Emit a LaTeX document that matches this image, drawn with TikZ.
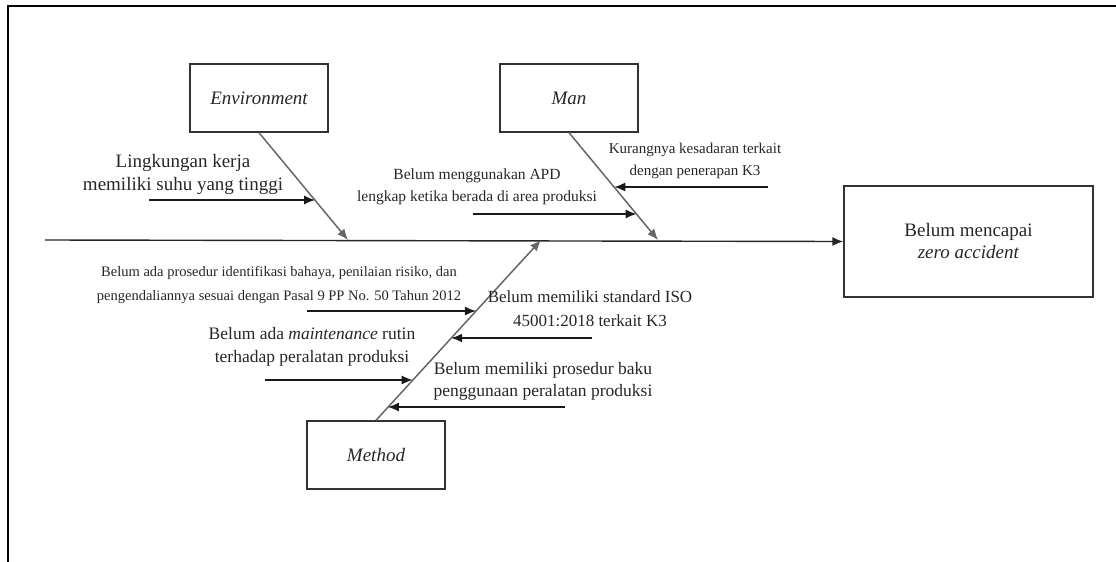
\documentclass[tikz,border=0pt]{standalone}
\usepackage{fontspec}
\setmainfont{Liberation Serif}
\usetikzlibrary{calc,arrows.meta}
\begin{document}
\begin{tikzpicture}[x=1pt,y=-1pt,
  box/.style={draw=black!80, line width=1.4pt, minimum width=138pt, minimum height=68pt, inner sep=0pt, align=center, text=black!85, font=\fontsize{19}{23}\selectfont\itshape},
  bone/.style={-{Latex[length=11pt,width=9pt]}, draw=black!60, line width=1.5pt},
  cause/.style={-{Latex[length=11pt,width=9pt]}, draw=black!90, line width=1.4pt},
  lbl/.style={align=center, inner sep=0pt, text=black!85}]
\useasboundingbox (0,0) rectangle (1116,562);
\draw[line width=2.4pt] (8,562) -- (8,6) -- (1116,6);

\node[box] (env) at (259,98) {Environment};
\node[box] (man) at (569,98) {Man};
\node[box] (method) at (376,455) {Method};
\node[box, minimum width=249pt, minimum height=111pt, font=\fontsize{19}{22}\selectfont] (effect) at (968.5,241.5) {Belum mencapai\\ \textit{zero accident}};

\coordinate (spine) at (45,240);
\coordinate (envhead) at (348,240);
\coordinate (manhead) at (658,240);
\coordinate (methodhead) at (541,240);
\draw[cause, draw=black!85] (spine) -- (effect.west);
\draw[bone] (env.south) -- (envhead);
\draw[bone] (man.south) -- (manhead);
\draw[bone] (method.north) -- (methodhead);

\coordinate (e1) at ($(env.south)!0.63!(envhead)$);
\coordinate (m1) at ($(man.south)!0.509!(manhead)$);
\coordinate (m2) at ($(man.south)!0.759!(manhead)$);
\coordinate (t1) at ($(method.north)!0.606!(methodhead)$);
\coordinate (t2) at ($(method.north)!0.456!(methodhead)$);
\coordinate (t3) at ($(method.north)!0.222!(methodhead)$);
\coordinate (t4) at ($(method.north)!0.072!(methodhead)$);

\coordinate (e1tail) at (149,200);
\coordinate (m1tail) at (768,187);
\coordinate (m2tail) at (473,214);
\coordinate (t1tail) at (307,311);
\coordinate (t2tail) at (592,338);
\coordinate (t3tail) at (265,380);
\coordinate (t4tail) at (565,407);
\draw[cause] (e1tail) -- (e1tail -| e1);
\draw[cause] (m1tail) -- (m1tail -| m1);
\draw[cause] (m2tail) -- (m2tail -| m2);
\draw[cause] (t1tail) -- (t1tail -| t1);
\draw[cause] (t2tail) -- (t2tail -| t2);
\draw[cause] (t3tail) -- (t3tail -| t3);
\draw[cause] (t4tail) -- (t4tail -| t4);

\node[lbl, font=\fontsize{19}{23}\selectfont] (e1text) at (183,174) {Lingkungan kerja\\ memiliki suhu yang tinggi};
\node[lbl, font=\fontsize{15}{22}\selectfont] (m1text) at (695,161) {Kurangnya kesadaran terkait\\ dengan penerapan K3};
\node[lbl, font=\fontsize{15.5}{22}\selectfont] (m2text) at (477,187) {Belum menggunakan APD\\ lengkap ketika berada di area produksi};
\node[lbl, font=\fontsize{14.5}{24}\selectfont] (t1text) at (279,285) {Belum ada prosedur identifikasi bahaya, penilaian risiko, dan\\ pengendaliannya sesuai dengan Pasal 9 PP No. 50 Tahun 2012};
\node[lbl, font=\fontsize{17}{24}\selectfont] (t2text) at (590,309) {Belum memiliki standard ISO\\ 45001:2018 terkait K3};
\node[lbl, font=\fontsize{17.5}{23}\selectfont] (t3text) at (312,347) {Belum ada \textit{maintenance} rutin\\ terhadap peralatan produksi};
\node[lbl, font=\fontsize{17.5}{22}\selectfont] (t4text) at (543,381) {Belum memiliki prosedur baku\\ penggunaan peralatan produksi};
\end{tikzpicture}
\end{document}
